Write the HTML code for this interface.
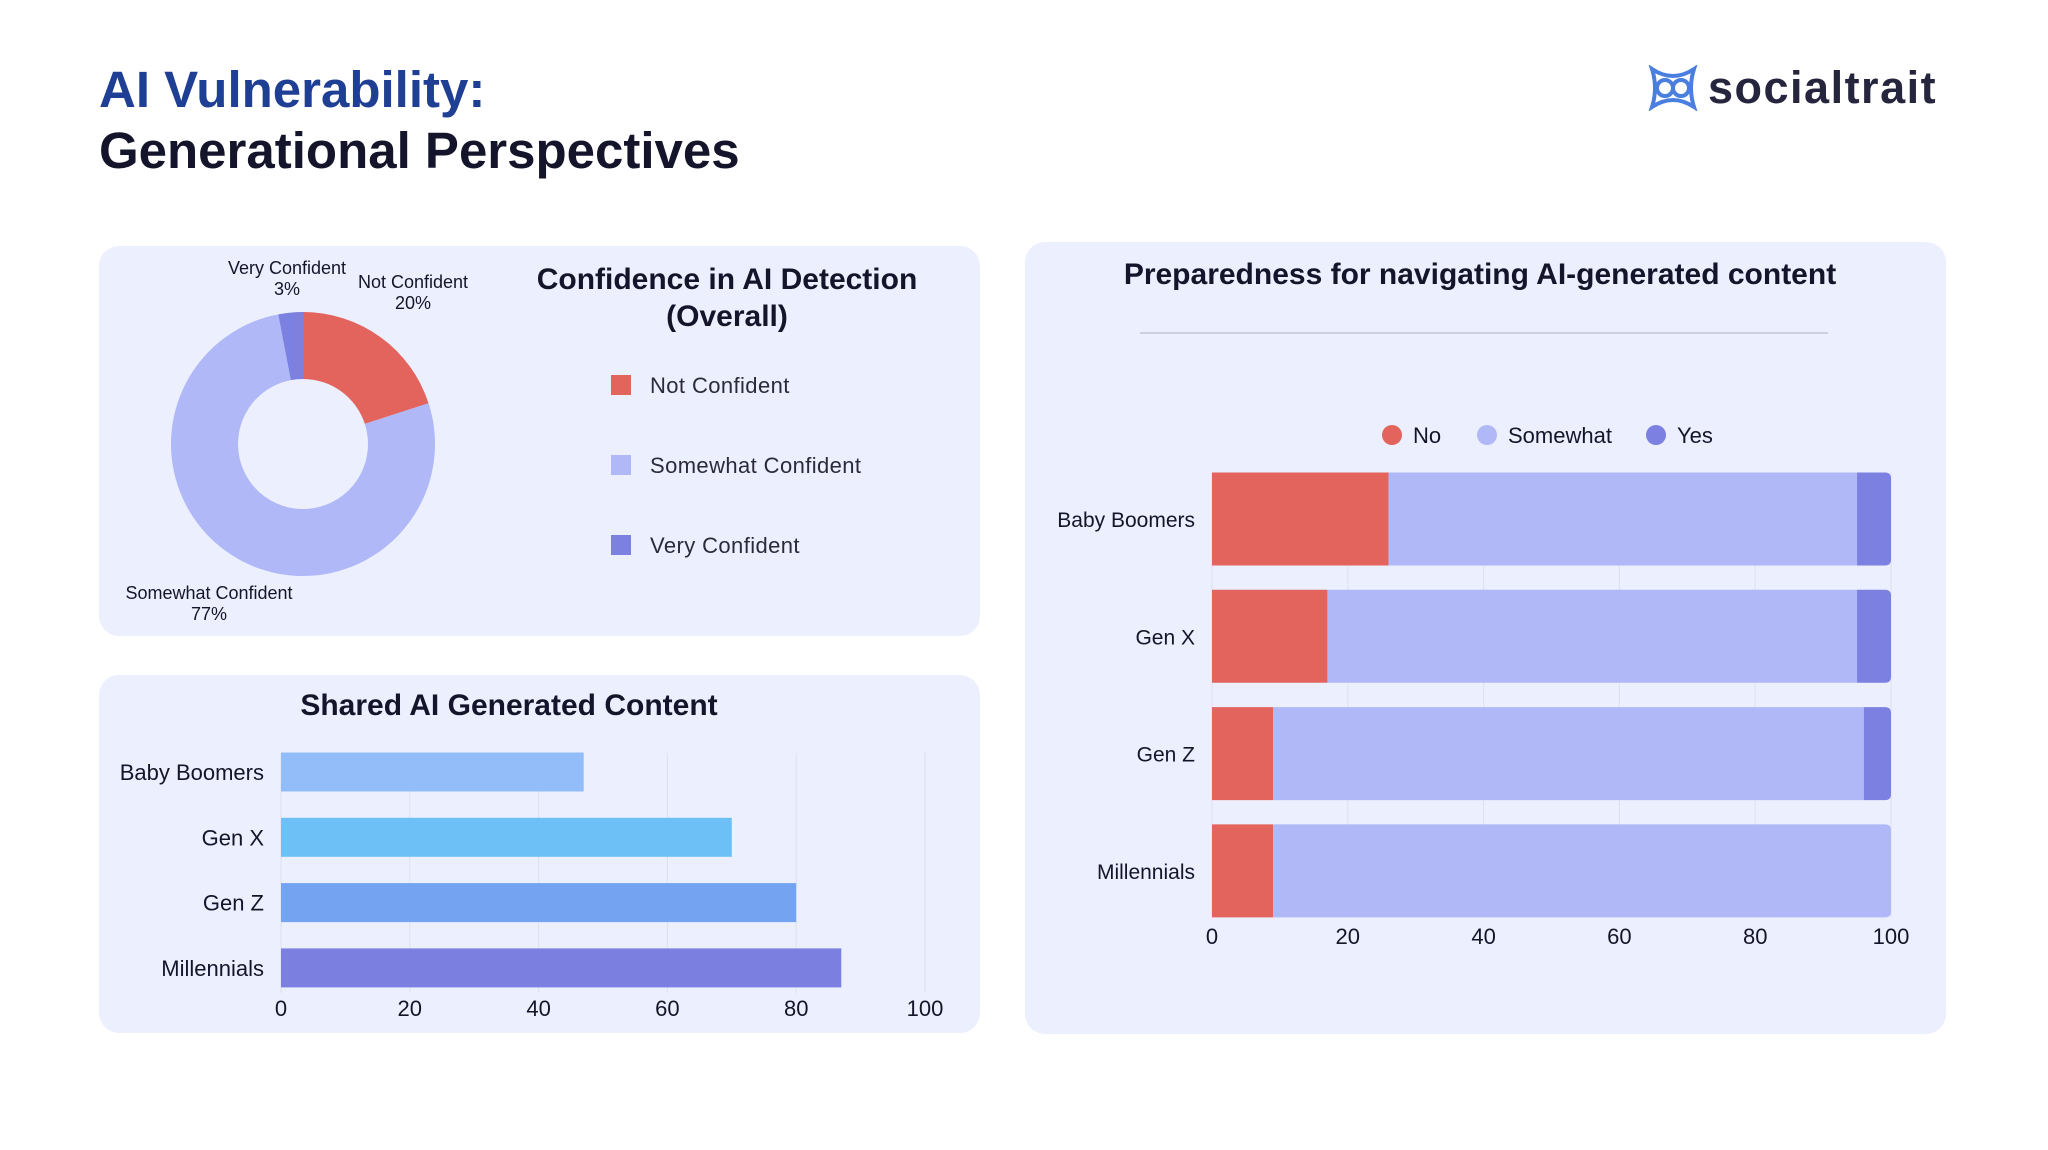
<!DOCTYPE html>
<html><head><meta charset="utf-8"><style>
body{margin:0;width:2048px;height:1150px;background:#fff;font-family:"Liberation Sans",sans-serif;overflow:hidden;position:relative}
.panel{position:absolute;background:#eceffd;border-radius:20px}
svg text{font-family:"Liberation Sans",sans-serif}
</style></head><body>
<div style="position:absolute;left:99px;top:60px;font-size:51px;font-weight:bold;color:#1e3f94">AI Vulnerability:</div>
<div style="position:absolute;left:99px;top:121px;font-size:51px;font-weight:bold;color:#14142b">Generational Perspectives</div>
<div style="position:absolute;left:1648px;top:62px;height:52px;display:flex;align-items:center">
<svg width="50" height="46" viewBox="0 0 50 46"><g fill="none" stroke="#4a7fe0" stroke-width="4"><path d="M4 4 Q25 18 46 4 Q40 23 46 42 Q25 28 4 42 Q10 23 4 4Z"/><circle cx="17" cy="23" r="8"/><circle cx="33" cy="23" r="8"/></g></svg>
<span style="margin-left:10px;font-size:45px;letter-spacing:1.5px;font-weight:bold;color:#25263d">socialtrait</span></div>

<div class="panel" style="left:99px;top:246px;width:881px;height:390px"></div>
<div class="panel" style="left:99px;top:675px;width:881px;height:358px"></div>
<div class="panel" style="left:1025px;top:242px;width:921px;height:792px"></div>

<svg id="chart" width="2048" height="1150" style="position:absolute;left:0;top:0"></svg>
<script>
const donutLabels=["Not Confident","Somewhat Confident","Very Confident"];
const donutValues=[20,77,3];
const donutColors=["#e2645c","#b0b8f8","#7c80e0"];
const sharedCats=["Baby Boomers","Gen X","Gen Z","Millennials"];
const sharedValues=[47,70,80,87];
const sharedColors=["#93bdf8","#6cc0f5","#74a3f2","#7b7fe0"];
const xTicks=[0,20,40,60,80,100];
const prepCats=["Baby Boomers","Gen X","Gen Z","Millennials"];
const prepNo=[26,17,9,9];
const prepSomewhat=[69,78,87,91];
const prepYes=[5,5,4,0];
const prepSeries=["No","Somewhat","Yes"];
const prepColors=["#e2645c","#b0b8f8","#7c80e0"];

const S=document.getElementById('chart');const NS="http://www.w3.org/2000/svg";
function mk(t,a,txt){const e=document.createElementNS(NS,t);for(const k in a)e.setAttribute(k,a[k]);if(txt!==undefined)e.textContent=txt;S.appendChild(e);return e;}

const cx=303,cy=444,R=132,r=65;let acc=0;const tot=donutValues.reduce((a,b)=>a+b,0);
function pt(f,rad){const a=f*2*Math.PI-Math.PI/2;return [cx+rad*Math.cos(a),cy+rad*Math.sin(a)];}
donutValues.forEach((v,i)=>{const f0=acc/tot,f1=(acc+v)/tot;acc+=v;const L=f1-f0>0.5?1:0;
const [x0,y0]=pt(f0,R),[x1,y1]=pt(f1,R),[x2,y2]=pt(f1,r),[x3,y3]=pt(f0,r);
const p=mk('path',{d:`M${x0} ${y0}A${R} ${R} 0 ${L} 1 ${x1} ${y1}L${x2} ${y2}A${r} ${r} 0 ${L} 0 ${x3} ${y3}Z`,fill:donutColors[i]});

});
const dl=[[413,288],[209,599],[287,274]];
donutLabels.forEach((l,i)=>{const t1=mk('text',{x:dl[i][0],y:dl[i][1],'text-anchor':'middle','font-size':18,fill:'#14142b'},l);


const t2=mk('text',{x:dl[i][0],y:dl[i][1]+21,'text-anchor':'middle','font-size':18,fill:'#14142b'},donutValues[i]+'%');

});
let dt=mk('text',{x:727,y:289,'text-anchor':'middle','font-size':30,'font-weight':'bold',fill:'#14142b'},'Confidence in AI Detection');

dt=mk('text',{x:727,y:326,'text-anchor':'middle','font-size':30,'font-weight':'bold',fill:'#14142b'},'(Overall)');

donutLabels.forEach((l,i)=>{const y=385+i*80;const s=mk('rect',{x:611,y:y-10,width:20,height:20,fill:donutColors[i]});


const t=mk('text',{x:650,y:y+8,'font-size':22,fill:'#2a2a3a','letter-spacing':0.4},l);

});

const sx=v=>281+v*(925-281)/100;const sy=i=>772+i*65.3;
let st=mk('text',{x:509,y:715,'text-anchor':'middle','font-size':30,'font-weight':'bold',fill:'#14142b'},'Shared AI Generated Content');

xTicks.forEach(t=>{const g=mk('line',{x1:sx(t),x2:sx(t),y1:753,y2:993,stroke:'#dde1f0','stroke-width':1});


const tl=mk('text',{x:sx(t),y:1016,'text-anchor':'middle','font-size':22,fill:'#14142b'},t);

});
sharedCats.forEach((c,i)=>{const b=mk('rect',{x:sx(0),y:sy(i)-19.5,width:sx(sharedValues[i])-sx(0),height:39,fill:sharedColors[i]});


const l=mk('text',{x:264,y:sy(i)+8,'text-anchor':'end','font-size':22,fill:'#14142b'},c);

});

const px=v=>1212+v*(1891-1212)/100;const py=i=>519+i*117.3;const bh=93;
let pt2=mk('text',{x:1480,y:284,'text-anchor':'middle','font-size':30,'font-weight':'bold',fill:'#14142b'},'Preparedness for navigating AI-generated content');

let sep=mk('line',{x1:1140,x2:1828,y1:333,y2:333,stroke:'#c4c6d4','stroke-width':1.5});

const lgx=[1392,1487,1656];
prepSeries.forEach((s,i)=>{const c=mk('circle',{cx:lgx[i],cy:435,r:10,fill:prepColors[i]});


const t=mk('text',{x:lgx[i]+21,y:443,'font-size':22,fill:'#14142b'},s);

});
xTicks.forEach(t=>{const g=mk('line',{x1:px(t),x2:px(t),y1:py(0)-bh/2,y2:py(3)+bh/2,stroke:'#dde1f0','stroke-width':1});


const tl=mk('text',{x:px(t),y:944,'text-anchor':'middle','font-size':22,fill:'#14142b'},t);

});
const series=[prepNo,prepSomewhat,prepYes];
prepCats.forEach((c,i)=>{let a=0;let last=-1;series.forEach((arr,k)=>{if(arr[i]>0)last=k;});
series.forEach((arr,k)=>{const v=arr[i];if(v<=0)return;
const x0=px(a),x1=px(a+v),y0=py(i)-bh/2,y1=py(i)+bh/2,rr=k===last?6:0;
const b=mk('path',{d:`M${x0} ${y0}H${x1-rr}Q${x1} ${y0} ${x1} ${y0+rr}V${y1-rr}Q${x1} ${y1} ${x1-rr} ${y1}H${x0}Z`,fill:prepColors[k]});


a+=v;});
const l=mk('text',{x:1195,y:py(i)+8,'text-anchor':'end','font-size':21,fill:'#14142b'},c);

});
</script>
</body></html>
